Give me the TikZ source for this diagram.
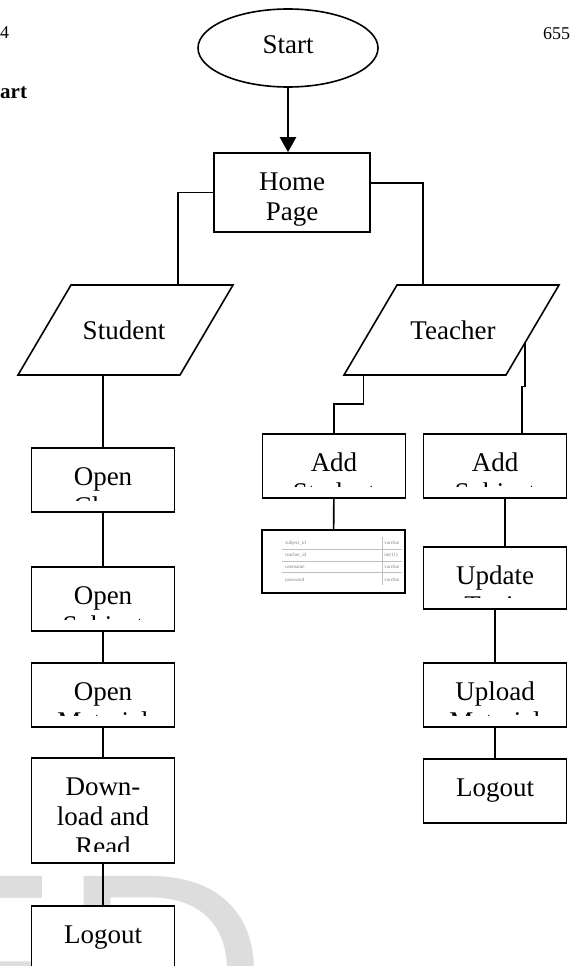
\documentclass[tikz,border=0pt]{standalone}
\usepackage{fontspec}
\setmainfont{Liberation Serif}
\newfontfamily\markfont{Liberation Sans}
\usetikzlibrary{arrows.meta}
\usetikzlibrary{calc}
\usetikzlibrary{shapes.geometric}
\definecolor{markgray}{RGB}{221,221,221}
\tikzset{
  boxtext/.style={font=\fontsize{27}{30}\selectfont, inner sep=0pt},
  clipgap/.store in=\clipgap, clipgap=12pt,
  procbox/.style={draw, fill=white, line width=1.6pt, minimum width=143pt,
    minimum height=64pt, inner sep=0pt,
    path picture={
      \clip ([yshift=\clipgap]path picture bounding box.south west)
        rectangle (path picture bounding box.north east);
      \node[boxtext, anchor=base] at ([yshift=-37pt]path picture bounding box.north)
        {\begin{tabular}[t]{@{}c@{}}#1\end{tabular}};
    }},
  iobox/.style={line width=1.6pt, line join=miter},
  iotext/.style={font=\fontsize{27}{30}\selectfont, inner sep=0pt},
  link/.style={line width=1.6pt},
}

\begin{document}
\begin{tikzpicture}[x=1pt,y=-1pt,>={Triangle[width=16pt,length=15pt]}]
    \useasboundingbox (0,0) rectangle (571,966);
    \clip (0,0) rectangle (571,966);
    \node[anchor=base west, inner sep=0pt, text=markgray, font=\markfont\fontsize{288}{288}\selectfont] (mark) at (-132,1074) {ED};
    \node[anchor=base west, inner sep=0pt, font=\fontsize{18}{20}\selectfont] (pgleft) at (0,38) {4};
    \node[anchor=base west, inner sep=0pt, font=\fontsize{18}{20}\selectfont] (pgright) at (543,40) {655};
    \node[anchor=base west, inner sep=0pt, font=\fontsize{21}{24}\selectfont\bfseries] (headfrag) at (0,99) {art};

    \node[draw, ellipse, line width=1.6pt, minimum width=180pt, minimum height=78pt,
      text depth=6pt, font=\fontsize{27}{30}\selectfont] (start) at (288,48) {Start};
    \node[procbox={Home\\Page}, clipgap=4pt, minimum width=156pt, minimum height=79pt] (home) at (292,192.5) {};

    \draw[iobox] (18,375) coordinate (stu-bl) -- ++(162,0) coordinate (stu-br)
      -- ++(53,-90) coordinate (stu-tr) -- ++(-162,0) coordinate (stu-tl) -- cycle;
    \node[iotext] (student) at (124,330) {Student};
    \draw[iobox] (344,375) coordinate (tea-bl) -- ++(162,0) coordinate (tea-br)
      -- ++(53,-90) coordinate (tea-tr) -- ++(-162,0) coordinate (tea-tl) -- cycle;
    \node[iotext] (teacher) at (453,330) {Teacher};

    \node[procbox={Open\\Class}] (class) at (103,480) {};
    \node[procbox={Open\\Subject}] (opensub) at (103,599) {};
    \node[procbox={Open\\Material}] (openmat) at (103,695) {};
    \node[procbox={Down-\\load and\\Read}, minimum height=105pt] (download) at (103,810.5) {};
    \node[procbox={Logout}] (logouts) at (103,938) {};

    \node[procbox={Add\\Student}] (addstu) at (334,466) {};
    \node[procbox={Add\\Subject}] (addsub) at (495,466) {};
    \node[draw, fill=white, line width=1.6pt, minimum width=143pt, minimum height=63pt] (table) at (333.5,561.5) {};
    \node[procbox={Update\\Topic}, minimum height=62pt] (update) at (495,578) {};
    \node[procbox={Upload\\Material}] (upload) at (495,695) {};
    \node[procbox={Logout}] (logoutt) at (495,791) {};

    \begin{scope}[shift={(table.north west)}, cell/.style={anchor=west, inner sep=0pt, text=gray, font=\fontsize{5}{6}\selectfont}]
      \foreach \ry/\fld/\typ in {14/subject\_id/varchar, 26/teacher\_id/int(11), 38/username/varchar, 51/password/varchar}{
        \node[cell] (fld-\ry) at (24,\ry) {\fld};
        \node[cell] (typ-\ry) at (123,\ry) {\typ};
      }
      \foreach \ry in {20,32,43}
        \draw[gray!50, line width=0.5pt] (21,\ry) -- (141,\ry);
      \draw[gray!50, line width=0.5pt] (121,8) -- (121,56);
    \end{scope}

    \draw[line width=2.4pt, ->] (start.south) -- (start.south |- home.north);
    \draw[link] (home.west) -| ($(stu-tl)!0.66!(stu-tr)$);
    \draw[link] ([yshift=9.5pt]home.east) -| ($(tea-tl)!0.16!(tea-tr)$);
    \draw[link] (class.north |- stu-bl) -- (class.north);
    \draw[link] (class) -- (opensub);
    \draw[link] (opensub) -- (openmat);
    \draw[link] (openmat) -- (download);
    \draw[link] (download) -- (logouts);
    \draw[link] ($(tea-bl)!0.12!(tea-br)$) -- ++(0,29) -| (addstu.north);
    \draw[link] ($(tea-tr)!0.64!(tea-br)$) -- ++(0,44) -| ([xshift=27pt]addsub.north);
    \draw[link] (addstu) -- (table);
    \draw[link] ([xshift=10pt]addsub.south) -- ([xshift=10pt]update.north);
    \draw[link] (update) -- (upload);
    \draw[link] (upload) -- (logoutt);
\end{tikzpicture}
\end{document}
